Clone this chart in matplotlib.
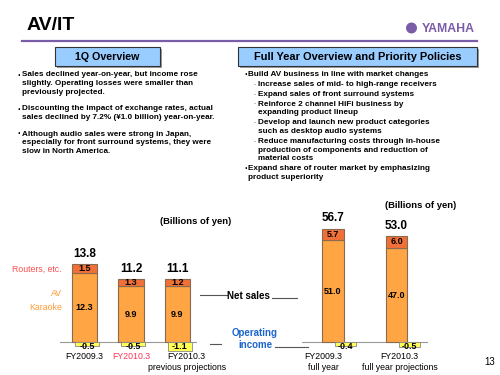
import matplotlib
matplotlib.use('Agg')
import matplotlib.pyplot as plt
from matplotlib.patches import Rectangle, Circle

plt.rcParams['font.family'] = ['Liberation Sans', 'DejaVu Sans']

# data (billions of yen)
q_labels = ['FY2009.3', 'FY2010.3', 'FY2010.3\nprevious projections']
q_av = [12.3, 9.9, 9.9]
q_routers = [1.5, 1.3, 1.2]
q_total = [13.8, 11.2, 11.1]
q_opinc = [-0.5, -0.5, -1.1]

fy_labels = ['FY2009.3\nfull year', 'FY2010.3\nfull year projections']
fy_av = [51.0, 47.0]
fy_routers = [5.7, 6.0]
fy_total = [56.7, 53.0]
fy_opinc = [-0.4, -0.5]

left_bullets = [
    'Sales declined year-on-year, but income rose\nslightly. Operating losses were smaller than\npreviously projected.',
    'Discounting the impact of exchange rates, actual\nsales declined by 7.2% (¥1.0 billion) year-on-year.',
    'Although audio sales were strong in Japan,\nespecially for front surround systems, they were\nslow in North America.',
]
right_items = [
    (0, 'Build AV business in line with market changes'),
    (1, 'Increase sales of mid- to high-range receivers'),
    (1, 'Expand sales of front surround systems'),
    (1, 'Reinforce 2 channel HiFi business by\nexpanding product lineup'),
    (1, 'Develop and launch new product categories\nsuch as desktop audio systems'),
    (1, 'Reduce manufacturing costs through in-house\nproduction of components and reduction of\nmaterial costs'),
    (0, 'Expand share of router market by emphasizing\nproduct superiority'),
]

W, H = 500, 375
fig = plt.figure(figsize=(5, 3.75), dpi=100)
fig.patch.set_facecolor('white')


def fx(x):
    return x / W


def fy(y):
    return 1 - y / H


purple = '#7b5ca8'
orange = '#ffa544'
red_seg = '#f07038'
edge = '#8a6a50'
yellow = '#ffff55'
body = dict(fontsize=5.9, fontweight='bold', va='top', linespacing=1.34)

# header
fig.text(fx(27), fy(25), 'AV/IT', fontsize=14, fontweight='bold', va='center')
fig.add_artist(Circle((4.115, 3.75 - 0.28), 0.055, transform=fig.dpi_scale_trans,
                      facecolor=purple, edgecolor='none'))
fig.text(fx(422), fy(28.5), 'YAMAHA', fontsize=8.8, fontweight='bold', color=purple,
         va='center')
fig.add_artist(plt.Line2D([fx(22), fx(477)], [fy(41), fy(41)], color=purple, lw=1.6))

# section boxes
for x0, x1, label, fs in [(55, 160, '1Q Overview', 7.7),
                          (238, 477, 'Full Year Overview and Priority Policies', 7.9)]:
    fig.add_artist(Rectangle((fx(x0 + 1.5), fy(67.5)), fx(x1 - x0), 19 / H,
                             transform=fig.transFigure, facecolor='#9a9a9a', edgecolor='none'))
    fig.add_artist(Rectangle((fx(x0), fy(66)), fx(x1 - x0), 19 / H,
                             transform=fig.transFigure, facecolor='#99ccff', edgecolor='#333333', lw=0.8))
    fig.text(fx((x0 + x1) / 2), fy(56.5), label, fontsize=fs, fontweight='bold',
             ha='center', va='center')

# left bullets
y = 71.5
for b in left_bullets:
    n = b.count('\n') + 1
    fig.text(fx(17.5), fy(y - 1), '·', fontsize=7, fontweight='bold', va='top')
    fig.text(fx(21.5), fy(y), b, **body)
    y += n * 9 + 7

# right bullets
y = 71
for lvl, b in right_items:
    n = b.count('\n') + 1
    if lvl == 0:
        fig.text(fx(244), fy(y - 1), '·', fontsize=7, fontweight='bold', va='top')
        fig.text(fx(248), fy(y), b, **body)
        y += n * 9 + 1.5
    else:
        fig.text(fx(254), fy(y), '-', fontsize=5, color='#888888', va='top')
        fig.text(fx(258), fy(y), b, **body)
        y += n * 9 + 0.6


def chart(x0, x1, xlim, k_sales, k_op, labels, av, routers, total, opinc, width, op_shift,
          label_shift, label_colors):
    top, bot, base = 190, 375, 342
    rect = [fx(x0), fy(bot), fx(x1 - x0), (bot - top) / H]
    ax = fig.add_axes(rect)
    ax.set_xlim(xlim)
    ax.set_ylim(-(bot - base) / k_sales, (base - top) / k_sales)
    ax.axis('off')
    axo = fig.add_axes(rect, sharex=ax)
    axo.set_ylim(-(bot - base) / k_op, (base - top) / k_op)
    axo.axis('off')
    xs = list(range(len(av)))
    ax.bar(xs, av, width, color=orange, edgecolor=edge, lw=0.8)
    ax.bar(xs, routers, width, bottom=av, color=red_seg, edgecolor=edge, lw=0.8)
    ax.axhline(0, color='#999999', lw=0.8, zorder=0)
    xo = [x + op_shift for x in xs]
    axo.bar(xo, opinc, width * 0.95, color=yellow, edgecolor='#888888', lw=0.6, zorder=3)
    for i in xs:
        ax.text(i, av[i] / 2, f'{av[i]:.1f}', ha='center', va='center', fontsize=6.5, fontweight='bold')
        ax.text(i, av[i] + routers[i] / 2, f'{routers[i]:.1f}', ha='center', va='center',
                fontsize=6.5, fontweight='bold')
        ax.annotate(f'{total[i]:.1f}', (i, total[i]), xytext=(0, 3), textcoords='offset points',
                    ha='center', va='bottom', fontsize=8.5, fontweight='bold')
        axo.annotate(f'{opinc[i]:.1f}', (xo[i], 0), xytext=(0, -3), textcoords='offset points',
                     ha='center', va='center', fontsize=6.5, fontweight='bold', zorder=4)
        ax.annotate(labels[i], (i + label_shift[i], 0), xytext=(0, -7.5), textcoords='offset points',
                    ha='center', va='top', fontsize=6.3, color=label_colors[i], linespacing=1.25)
    return ax


chart(60, 197, (-0.527, 2.42), 5.65, 8.0, q_labels, q_av, q_routers, q_total, q_opinc,
      0.54, 0.05, [0, 0, 0.2], ['black', '#ff3355', 'black'])
chart(302, 428, (-0.488, 1.496), 2.0, 10.0, fy_labels, fy_av, fy_routers, fy_total, fy_opinc,
      0.346, 0.2, [-0.15, 0.05], ['black', 'black'])

# legend-style labels
fig.text(fx(62), fy(269), 'Routers, etc.', fontsize=6.3, color='#ff5050', ha='right', va='center')
fig.text(fx(62), fy(293), 'AV', fontsize=6.3, color='#ff9933', ha='right', va='center')
fig.text(fx(62), fy(308), 'Karaoke', fontsize=6.3, color='#ff9933', ha='right', va='center')

fig.text(fx(196), fy(222), '(Billions of yen)', fontsize=6.8, fontweight='bold', ha='center', va='center')
fig.text(fx(421), fy(205), '(Billions of yen)', fontsize=6.8, fontweight='bold', ha='center', va='center')

# connector labels
fig.text(fx(248), fy(296), 'Net sales', fontsize=7, fontweight='bold', ha='center', va='center')
fig.add_artist(plt.Line2D([fx(200), fx(227)], [fy(295), fy(295)], color='#555555', lw=0.8))
fig.add_artist(plt.Line2D([fx(272), fx(297)], [fy(298), fy(298)], color='#555555', lw=0.8))
fig.text(fx(255), fy(339), 'Operating\nincome', fontsize=7, fontweight='bold', color='#1a66cc',
         ha='center', va='center', linespacing=1.2)
fig.add_artist(plt.Line2D([fx(210), fx(221)], [fy(344), fy(344)], color='#555555', lw=0.8))
fig.add_artist(plt.Line2D([fx(275), fx(308)], [fy(347), fy(347)], color='#555555', lw=0.8))

fig.text(fx(490), fy(362), '13', fontsize=7, ha='center', va='center')

fig.savefig('out.png', dpi=100)
